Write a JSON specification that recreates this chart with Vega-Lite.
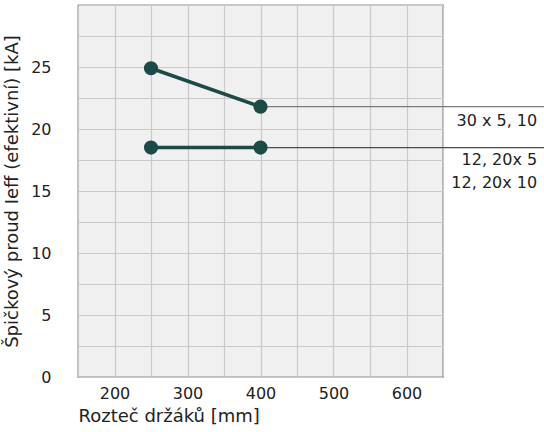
{
  "$schema": "https://vega.github.io/schema/vega-lite/v6.json",
  "width": 365,
  "height": 372,
  "autosize": {"type": "none"},
  "padding": {"left": 78, "top": 5, "right": 101, "bottom": 55},
  "background": "white",
  "config": {
    "font": "DejaVu Sans",
    "view": {"fill": "#f0f0f0", "stroke": "#222222", "strokeWidth": 1.2},
    "axis": {
      "domain": false,
      "ticks": false,
      "tickCount": 40,
      "gridColor": "#c9c9c9",
      "gridWidth": 1.2,
      "gridOpacity": 1,
      "labelFont": "DejaVu Sans",
      "labelFontSize": 16,
      "labelColor": "#222222",
      "titleFont": "DejaVu Sans",
      "titleFontSize": 18,
      "titleFontWeight": "normal",
      "titleColor": "#222222"
    }
  },
  "datasets": {
    "lines": [
      {"rozestup": 250, "proud": 24.9, "serie": "30 x 5, 10"},
      {"rozestup": 400, "proud": 21.8, "serie": "30 x 5, 10"},
      {"rozestup": 250, "proud": 18.5, "serie": "12, 20x 5/10"},
      {"rozestup": 400, "proud": 18.5, "serie": "12, 20x 5/10"}
    ],
    "leaders": [
      {"x1": 400, "x2": 800, "y": 21.8, "c": "a"},
      {"x1": 400, "x2": 800, "y": 18.5, "c": "b"}
    ],
    "labels": [
      {"x": 779, "y": 20.65, "text": "30 x 5, 10"},
      {"x": 779, "y": 17.5, "text": "12, 20x 5"},
      {"x": 779, "y": 15.65, "text": "12, 20x 10"}
    ]
  },
  "layer": [
    {
      "data": {"name": "leaders"},
      "mark": {"type": "rule", "strokeWidth": 1.2},
      "encoding": {
        "x": {"field": "x1", "type": "quantitative", "scale": {"domain": [150, 650], "nice": false, "zero": false},
          "axis": {"values": [150, 200, 250, 300, 350, 400, 450, 500, 550, 600, 650], "tickCount": 40,
            "labelExpr": "datum.value % 100 == 0 ? datum.label : ''",
            "title": "Rozteč držáků [mm]", "titleAnchor": "start", "titlePadding": 6, "labelPadding": 8, "labelFlush": false}},
        "x2": {"field": "x2"},
        "y": {"field": "y", "type": "quantitative", "scale": {"domain": [0, 30], "nice": false},
          "axis": {"values": [0, 2.5, 5, 7.5, 10, 12.5, 15, 17.5, 20, 22.5, 25, 27.5, 30], "tickCount": 40,
            "labelExpr": "datum.value % 5 == 0 && datum.value < 30 ? datum.label : ''",
            "title": "Špičkový proud Ieff (efektivní) [kA]", "titlePadding": 9, "labelPadding": 27, "labelFlush": false}},
        "color": {"field": "c", "type": "nominal", "scale": {"domain": ["a", "b"], "range": ["#7a7a7a", "#4a4a4a"]}, "legend": null}
      }
    },
    {
      "data": {"name": "lines"},
      "mark": {"type": "line", "color": "#1b4a47", "strokeWidth": 3.5},
      "encoding": {
        "x": {"field": "rozestup", "type": "quantitative"},
        "y": {"field": "proud", "type": "quantitative"},
        "detail": {"field": "serie"}
      }
    },
    {
      "data": {"name": "lines"},
      "mark": {"type": "point", "filled": true, "color": "#1b4a47", "size": 200, "opacity": 1},
      "encoding": {
        "x": {"field": "rozestup", "type": "quantitative"},
        "y": {"field": "proud", "type": "quantitative"}
      }
    },
    {
      "data": {"name": "labels"},
      "mark": {"type": "text", "align": "right", "baseline": "middle", "fontSize": 16, "color": "#222222", "font": "DejaVu Sans"},
      "encoding": {
        "x": {"field": "x", "type": "quantitative"},
        "y": {"field": "y", "type": "quantitative"},
        "text": {"field": "text"}
      }
    }
  ]
}
